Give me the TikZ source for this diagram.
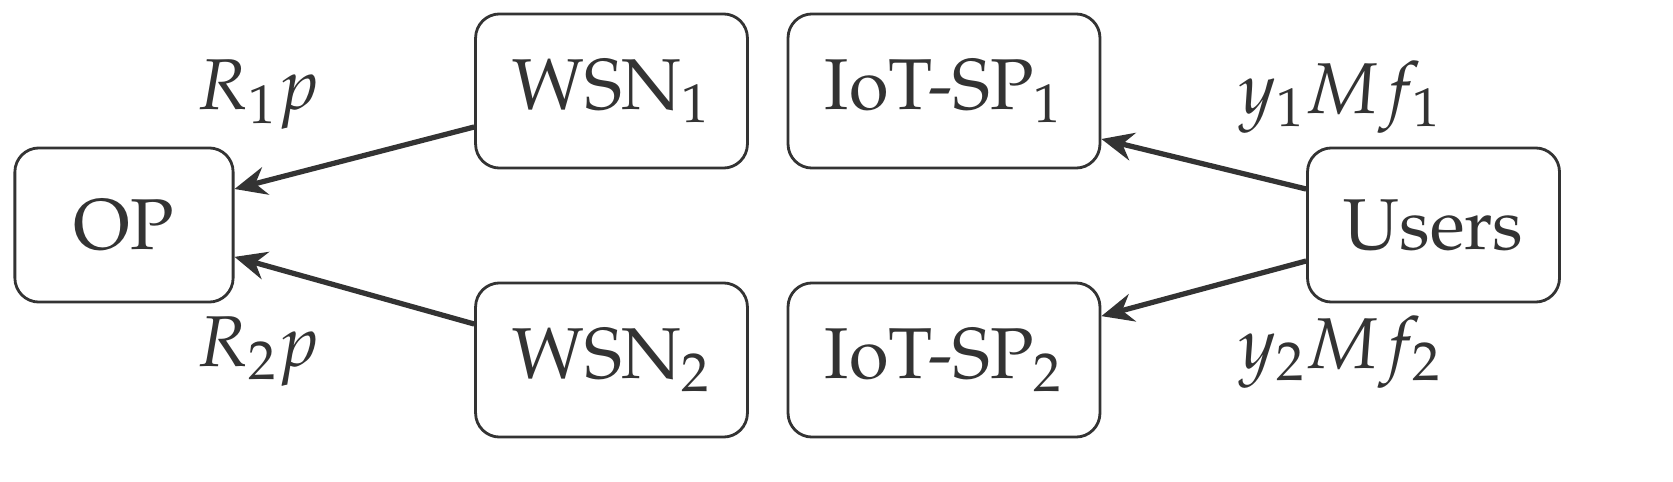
\documentclass[tikz,border=0pt]{standalone}
\usepackage[T1]{fontenc}
\usepackage{mathpazo}
\usetikzlibrary{arrows.meta}
\begin{document}
\begin{tikzpicture}[x=0.2667pt,y=-0.2667pt,
  box/.style={draw=black!80,line width=0.75pt,rounded corners=6.4pt,inner sep=0pt,font=\fontsize{19.2}{23}\selectfont,text=black!80},
  arr/.style={draw=black!80,line width=1.4pt,-{Stealth[length=8.5pt,width=7.5pt]}},
  lab/.style={font=\fontsize{19.2}{23}\selectfont,text=black!80}]
\fill[white] (0,0) rectangle (1673,481);
\useasboundingbox (0,0) rectangle (1673,481);
\node[box,minimum width=58.2pt,minimum height=41.1pt] (op) at (124,225) {OP};
\node[box,minimum width=72.5pt,minimum height=41.1pt] (w1) at (611.5,91) {WSN$_1$};
\node[box,minimum width=72.5pt,minimum height=41.1pt] (w2) at (611.5,360) {WSN$_2$};
\node[box,minimum width=83.2pt,minimum height=41.1pt] (s1) at (944,91) {IoT-SP$_1$};
\node[box,minimum width=83.2pt,minimum height=41.1pt] (s2) at (944,360) {IoT-SP$_2$};
\node[box,minimum width=67.2pt,minimum height=41.1pt] (u) at (1433.5,225) {Users};
\draw[arr] ([yshift=-9.6pt]w1.west) -- ([yshift=9.6pt]op.east);
\draw[arr] ([yshift=9.6pt]w2.west) -- ([yshift=-8.5pt]op.east);
\draw[arr] ([yshift=9.6pt]u.west) -- ([yshift=-12.8pt]s1.east);
\draw[arr] ([yshift=-9.6pt]u.west) -- ([yshift=11.7pt]s2.east);
\node[lab] (l1) at (258,95) {$R_1p$};
\node[lab] (l2) at (258,352) {$R_2p$};
\node[lab] (l3) at (1340,97) {$y_1Mf_1$};
\node[lab] (l4) at (1340,352) {$y_2Mf_2$};
\end{tikzpicture}
\end{document}
